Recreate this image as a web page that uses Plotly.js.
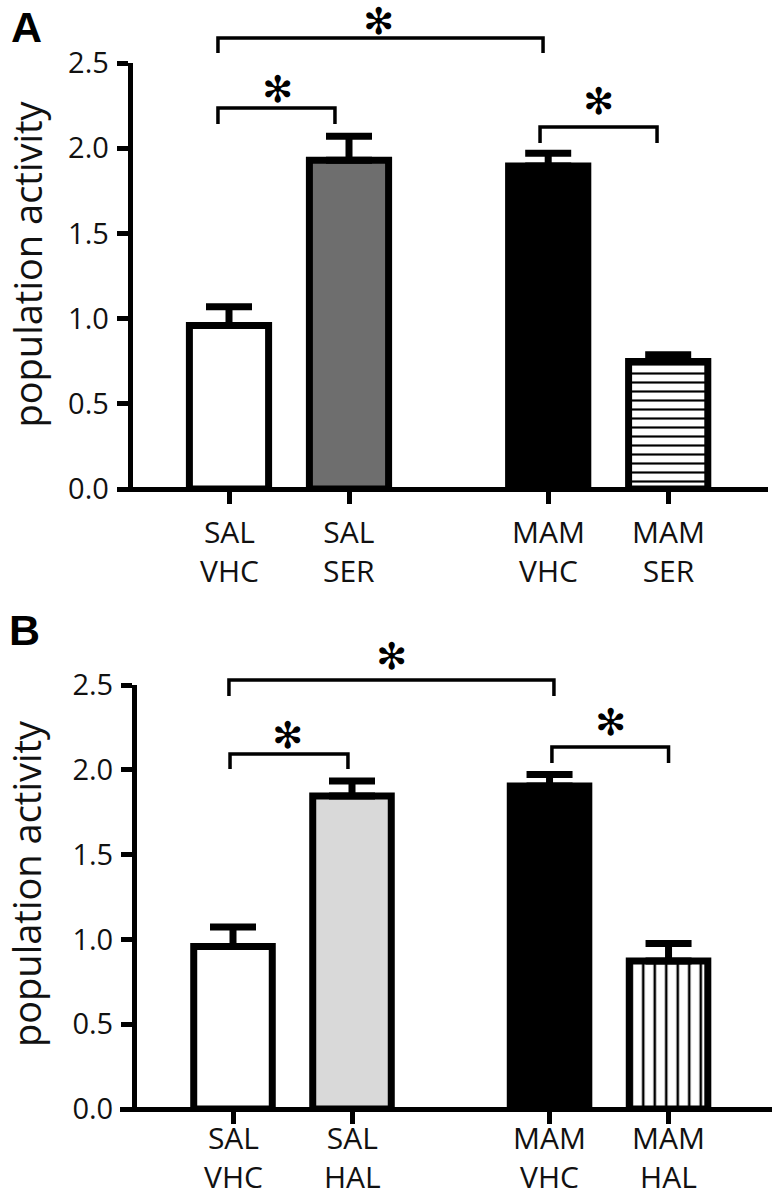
<!DOCTYPE html>
<html><head><meta charset="utf-8">
<script src="https://cdn.plot.ly/plotly-3.0.1.min.js"></script>
<style>html,body{margin:0;padding:0;background:#fff}</style>
</head><body><div id="chart" style="width:772px;height:1199px"></div>
<script>
// ---------- data ----------
const groupLabels = ["SAL", "SAL", "MAM", "MAM"];
const treatLabelsA = ["VHC", "SER", "VHC", "SER"];
const treatLabelsB = ["VHC", "HAL", "VHC", "HAL"];
const meanA = [0.96, 1.93, 1.895, 0.748];
const semA  = [0.11, 0.14, 0.075, 0.04];
const meanB = [0.958, 1.846, 1.904, 0.873];
const semB  = [0.115, 0.088, 0.068, 0.103];
const yTickVals = [0, 0.5, 1.0, 1.5, 2.0, 2.5];
const yTickText = ["0.0", "0.5", "1.0", "1.5", "2.0", "2.5"];
const yTitle = "population activity";
const panelLetters = ["A", "B"];
const sigMark = "\u273B";

// ---------- layout helpers ----------
const W = 772, H = 1199;
const px = v => v / W;
const py = v => 1 - v / H;
const xpos = [0, 1, 2.66, 3.66];
const FONT = "Open Sans, sans-serif";
const TXT = "#111";

function scaleTop(zeroPx, topPx, topVal, maxPx) { return topVal * (zeroPx - maxPx) / (zeroPx - topPx); }

const P = {
  A: {zero: 489, top: 63, left: 117, right: 768, yline: 129.7, x0px: 229, unit: 120, labAnchor: "middle", labShift: -61.5, titleY: 264.5,
      brackets: [[-0.092, 2.617, 2.559, 2.647], [-0.092, 0.883, 2.142, 2.236], [2.592, 3.567, 2.030, 2.124]],
      stars: [[1.242, 2.743], [0.40, 2.347], [3.083, 2.277]], letter: [9, 27.5], topPx: 0},
  B: {zero: 1109, top: 685, left: 120, right: 772, yline: 134, x0px: 233, unit: 119, labAnchor: "bottom", labShift: -90, titleY: 884,
      brackets: [[-0.034, 2.697, 2.435, 2.529], [-0.025, 0.966, 2.005, 2.093], [2.68, 3.66, 2.040, 2.134]],
      stars: [[1.336, 2.671], [0.462, 2.205], [3.176, 2.276]], letter: [7, 630], topPx: 600}
};

const traces = [];
const layout = {
  width: W, height: H, margin: {l: 0, r: 0, t: 0, b: 0}, autosize: false, barmode: "overlay",
  paper_bgcolor: "#fff", plot_bgcolor: "rgba(0,0,0,0)", showlegend: false,
  font: {family: FONT, color: TXT},
  annotations: []
};

function buildPanel(key, idx, means, sems, colors, hatchIdx, patShape, patSize, patSol, treat) {
  const p = P[key];
  const n = idx === 0 ? "" : "2";
  const nb = idx === 0 ? "3" : "4";
  const xr = [(p.left - p.x0px) / p.unit, (p.right - p.x0px) / p.unit];
  const xd = [px(p.left), px(p.right)];
  layout["xaxis" + n] = {domain: xd, range: xr, anchor: "free", position: py(p.zero),
    showline: true, linewidth: 5, linecolor: "#000", ticks: "outside", ticklen: 12, tickwidth: 5, tickcolor: "#000",
    tickvals: xpos, showticklabels: false, showgrid: false, zeroline: false, fixedrange: true};
  layout["yaxis" + n] = {domain: [py(p.zero), py(p.top)], range: [0, 2.5], anchor: "free", position: px(p.yline),
    showline: true, linewidth: 5, linecolor: "#000", ticks: "outside", ticklen: 11, tickwidth: 5, tickcolor: "#000",
    tickvals: yTickVals, ticktext: yTickText, tickfont: {family: FONT, size: 29, color: TXT}, ticklabelstandoff: 2,
    showgrid: false, zeroline: false, fixedrange: true};
  layout["xaxis" + nb] = {domain: xd, range: xr, anchor: "y" + nb, visible: false, fixedrange: true};
  layout["yaxis" + nb] = {domain: [py(p.zero), py(p.topPx)], range: [0, scaleTop(p.zero, p.top, 2.5, p.topPx)],
    anchor: "x" + nb, visible: false, fixedrange: true};

  const solidIdx = xpos.map((_, i) => i).filter(i => i !== hatchIdx);
  traces.push({type: "bar", x: solidIdx.map(i => xpos[i]), y: solidIdx.map(i => means[i]), width: 0.66,
    xaxis: "x" + n, yaxis: "y" + n,
    marker: {color: solidIdx.map(i => colors[i]), line: {color: "#000", width: 7}},
    error_y: {type: "data", symmetric: false, array: solidIdx.map(i => sems[i]), arrayminus: solidIdx.map(() => 0),
      color: "#000", thickness: 7, width: 23},
    hoverinfo: "skip"});
  traces.push({type: "bar", x: [xpos[hatchIdx]], y: [means[hatchIdx]], width: 0.66,
    xaxis: "x" + n, yaxis: "y" + n,
    marker: {color: "#ffffff", line: {color: "#000", width: 7},
      pattern: {shape: patShape, size: patSize, solidity: patSol, fgcolor: "#000", fgopacity: 1}},
    error_y: {type: "data", symmetric: false, array: [sems[hatchIdx]], arrayminus: [0], color: "#000", thickness: 7, width: 23},
    hoverinfo: "skip"});

  p.brackets.forEach(b => {
    traces.push({type: "scatter", mode: "lines", x: [b[0], b[0], b[1], b[1]], y: [b[2], b[3], b[3], b[2]],
      xaxis: "x" + nb, yaxis: "y" + nb, line: {color: "#000", width: 3.5}, hoverinfo: "skip", cliponaxis: false});
  });
  p.stars.forEach(s => {
    layout.annotations.push({xref: "x" + nb, yref: "y" + nb, x: s[0], y: s[1], text: sigMark, showarrow: false,
      xanchor: "center", yanchor: "middle", yshift: 0, font: {family: "DejaVu Sans, sans-serif", size: 37, color: "#000"}});
  });
  for (let i = 0; i < xpos.length; i++) {
    layout.annotations.push({xref: "x" + n, yref: "y" + n, x: xpos[i], y: 0, text: groupLabels[i] + "<br>" + treat[i],
      showarrow: false, xanchor: "center", yanchor: p.labAnchor, yshift: p.labShift, align: "center",
      font: {family: FONT, size: 30, color: TXT}});
  }
  layout.annotations.push({xref: "paper", yref: "paper", x: px(26), y: py(p.titleY), text: yTitle, textangle: -90,
    showarrow: false, xanchor: "center", yanchor: "middle", font: {family: FONT, size: 38, color: TXT}});
  layout.annotations.push({xref: "paper", yref: "paper", x: px(p.letter[0]), y: py(p.letter[1]), text: "<b>" + panelLetters[idx] + "</b>",
    showarrow: false, xanchor: "left", yanchor: "middle", font: {family: "Liberation Sans, Arial, sans-serif", size: 43, color: "#000"}});
}

buildPanel("A", 0, meanA, semA, ["#ffffff", "#6e6e6e", "#000000", "#ffffff"], 3, "-", 9, 0.24, treatLabelsA);
buildPanel("B", 1, meanB, semB, ["#ffffff", "#d9d9d9", "#000000", "#ffffff"], 3, "|", 11.5, 0.22, treatLabelsB);

Plotly.newPlot("chart", traces, layout, {displayModeBar: false});
</script></body></html>
